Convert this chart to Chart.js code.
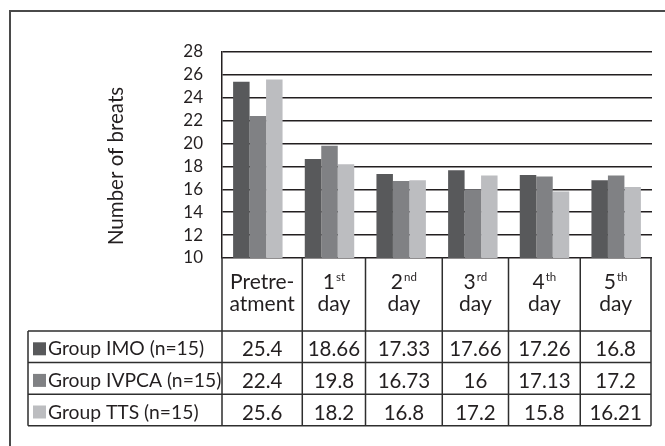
<!DOCTYPE html>
<html>
<head>
<meta charset="utf-8">
<script src="https://cdn.jsdelivr.net/npm/chart.js@4/dist/chart.umd.min.js"></script>
<style>
  html, body { margin: 0; padding: 0; background: #ffffff; }
  #wrap { position: relative; width: 665px; height: 446px; overflow: hidden; }
  canvas { display: block; }
</style>
</head>
<body>
<div id="wrap"><canvas id="chart" width="665" height="446"></canvas></div>
<script>
// Respiratory rate per group over the follow-up period
const categories = ['Pretreatment', '1st day', '2nd day', '3rd day', '4th day', '5th day'];
const headerTop = ['Pretre-', '1', '2', '3', '4', '5'];
const headerSup = ['', 'st', 'nd', 'rd', 'th', 'th'];
const headerBottom = ['atment', 'day', 'day', 'day', 'day', 'day'];

const seriesNames = ['Group IMO (n=15)', 'Group IVPCA (n=15)', 'Group TTS (n=15)'];
const groupIMO = [25.4, 18.66, 17.33, 17.66, 17.26, 16.8];
const groupIVPCA = [22.4, 19.8, 16.73, 16, 17.13, 17.2];
const groupTTS = [25.6, 18.2, 16.8, 17.2, 15.8, 16.21];

const yTicks = [10, 12, 14, 16, 18, 20, 22, 24, 26, 28];
const yTitle = 'Number of breats';

// Styling / layout
const seriesColors = ['#58595b', '#808184', '#bcbdc0'];
const ink = '#231f20';
const lineColor = '#2e2e2e';
const fontFamily = 'Lato, "DejaVu Sans", sans-serif';
const columnShare = [80, 63, 76.5, 66, 71.5, 70.5];   // data-table column widths (relative)
const tableLeft = 28;
const headerHeight = 73;
const rowHeight = 31.6;

const seriesValues = [groupIMO, groupIVPCA, groupTTS];

const tablePlugin = {
  id: 'dataTable',
  beforeDraw(chart) {
    const ctx = chart.ctx;
    ctx.save();
    ctx.strokeStyle = '#4a4a4a';
    ctx.lineWidth = 2;
    ctx.strokeRect(10, 11, 800, 600);
    ctx.restore();
  },
  afterDraw(chart) {
    const ctx = chart.ctx;
    const area = chart.chartArea;
    ctx.save();

    // rotated axis title
    ctx.fillStyle = ink;
    ctx.font = '20.5px ' + fontFamily;
    ctx.textAlign = 'center';
    ctx.textBaseline = 'middle';
    ctx.translate(116, 166);
    ctx.rotate(-Math.PI / 2);
    ctx.fillText(yTitle, 0, 0);
    ctx.setTransform(1, 0, 0, 1, 0, 0);

    // column edges spread across the plot width
    const total = columnShare.reduce((a, b) => a + b, 0);
    const edges = [area.left];
    columnShare.forEach((w) => edges.push(edges[edges.length - 1] + (area.right - 1 - area.left) * w / total));
    const headTop = area.bottom;
    const rowTops = [];
    for (let i = 0; i <= seriesNames.length; i++) rowTops.push(headTop + headerHeight + i * rowHeight);
    const tableBottom = rowTops[rowTops.length - 1];

    // grid lines
    ctx.strokeStyle = lineColor;
    ctx.lineWidth = 1.5;
    ctx.beginPath();
    edges.forEach((x) => { ctx.moveTo(x, headTop - 1); ctx.lineTo(x, tableBottom); });
    ctx.moveTo(tableLeft, rowTops[0]); ctx.lineTo(tableLeft, tableBottom);
    rowTops.forEach((y) => { ctx.moveTo(tableLeft, y); ctx.lineTo(edges[edges.length - 1], y); });
    ctx.stroke();

    // header cells
    ctx.fillStyle = ink;
    ctx.textBaseline = 'alphabetic';
    categories.forEach((c, i) => {
      const cx = (edges[i] + edges[i + 1]) / 2;
      ctx.font = '21px ' + fontFamily;
      const mainW = ctx.measureText(headerTop[i]).width;
      ctx.font = '11.5px ' + fontFamily;
      const supW = headerSup[i] ? ctx.measureText(headerSup[i]).width + 1 : 0;
      const startX = cx - (mainW + supW) / 2;
      ctx.textAlign = 'left';
      ctx.font = '21px ' + fontFamily;
      ctx.fillText(headerTop[i], startX, headTop + 31);
      if (headerSup[i]) {
        ctx.font = '11.5px ' + fontFamily;
        ctx.fillText(headerSup[i], startX + mainW + 1, headTop + 23);
      }
      ctx.font = '21px ' + fontFamily;
      ctx.textAlign = 'center';
      ctx.fillText(headerBottom[i], cx, headTop + 53);
    });

    // series rows: swatch, name and values
    seriesNames.forEach((name, r) => {
      const base = rowTops[r] + (rowTops[r + 1] - rowTops[r]) / 2 + 8.5;
      ctx.fillStyle = seriesColors[r];
      ctx.fillRect(tableLeft + 5, base - 13, 13, 13);
      ctx.fillStyle = ink;
      ctx.textAlign = 'left';
      ctx.font = '19.3px ' + fontFamily;
      ctx.fillText(name, tableLeft + 20, base);
      ctx.textAlign = 'center';
      ctx.font = '20.5px ' + fontFamily;
      seriesValues[r].forEach((v, i) => {
        ctx.fillText(String(v), (edges[i] + edges[i + 1]) / 2, base + 1);
      });
    });

    ctx.restore();
  }
};

new Chart(document.getElementById('chart'), {
  type: 'bar',
  data: {
    labels: categories,
    datasets: seriesNames.map((name, i) => ({
      label: name,
      data: seriesValues[i],
      backgroundColor: seriesColors[i],
      borderWidth: 0,
      categoryPercentage: 0.69,
      barPercentage: 1.0
    }))
  },
  options: {
    responsive: false,
    animation: false,
    devicePixelRatio: 1,
    layout: { padding: { top: 52, right: 13, left: 0, bottom: 0 } },
    plugins: {
      legend: { display: false },
      tooltip: { enabled: false },
      title: { display: false }
    },
    scales: {
      x: {
        ticks: { display: false },
        grid: { display: false, drawTicks: false },
        border: { display: false },
        afterFit(scale) { scale.height = 188; }
      },
      y: {
        min: 10,
        max: 28,
        afterBuildTicks(scale) { scale.ticks = yTicks.map((v) => ({ value: v })); },
        ticks: {
          color: ink,
          padding: 19,
          autoSkip: false,
          font: { family: fontFamily, size: 17 }
        },
        grid: { color: ink, lineWidth: 1.5, drawTicks: false },
        border: { display: true, color: ink, width: 1.5 },
        afterFit(scale) { scale.width = 222; }
      }
    }
  },
  plugins: [tablePlugin]
});
</script>
</body>
</html>
